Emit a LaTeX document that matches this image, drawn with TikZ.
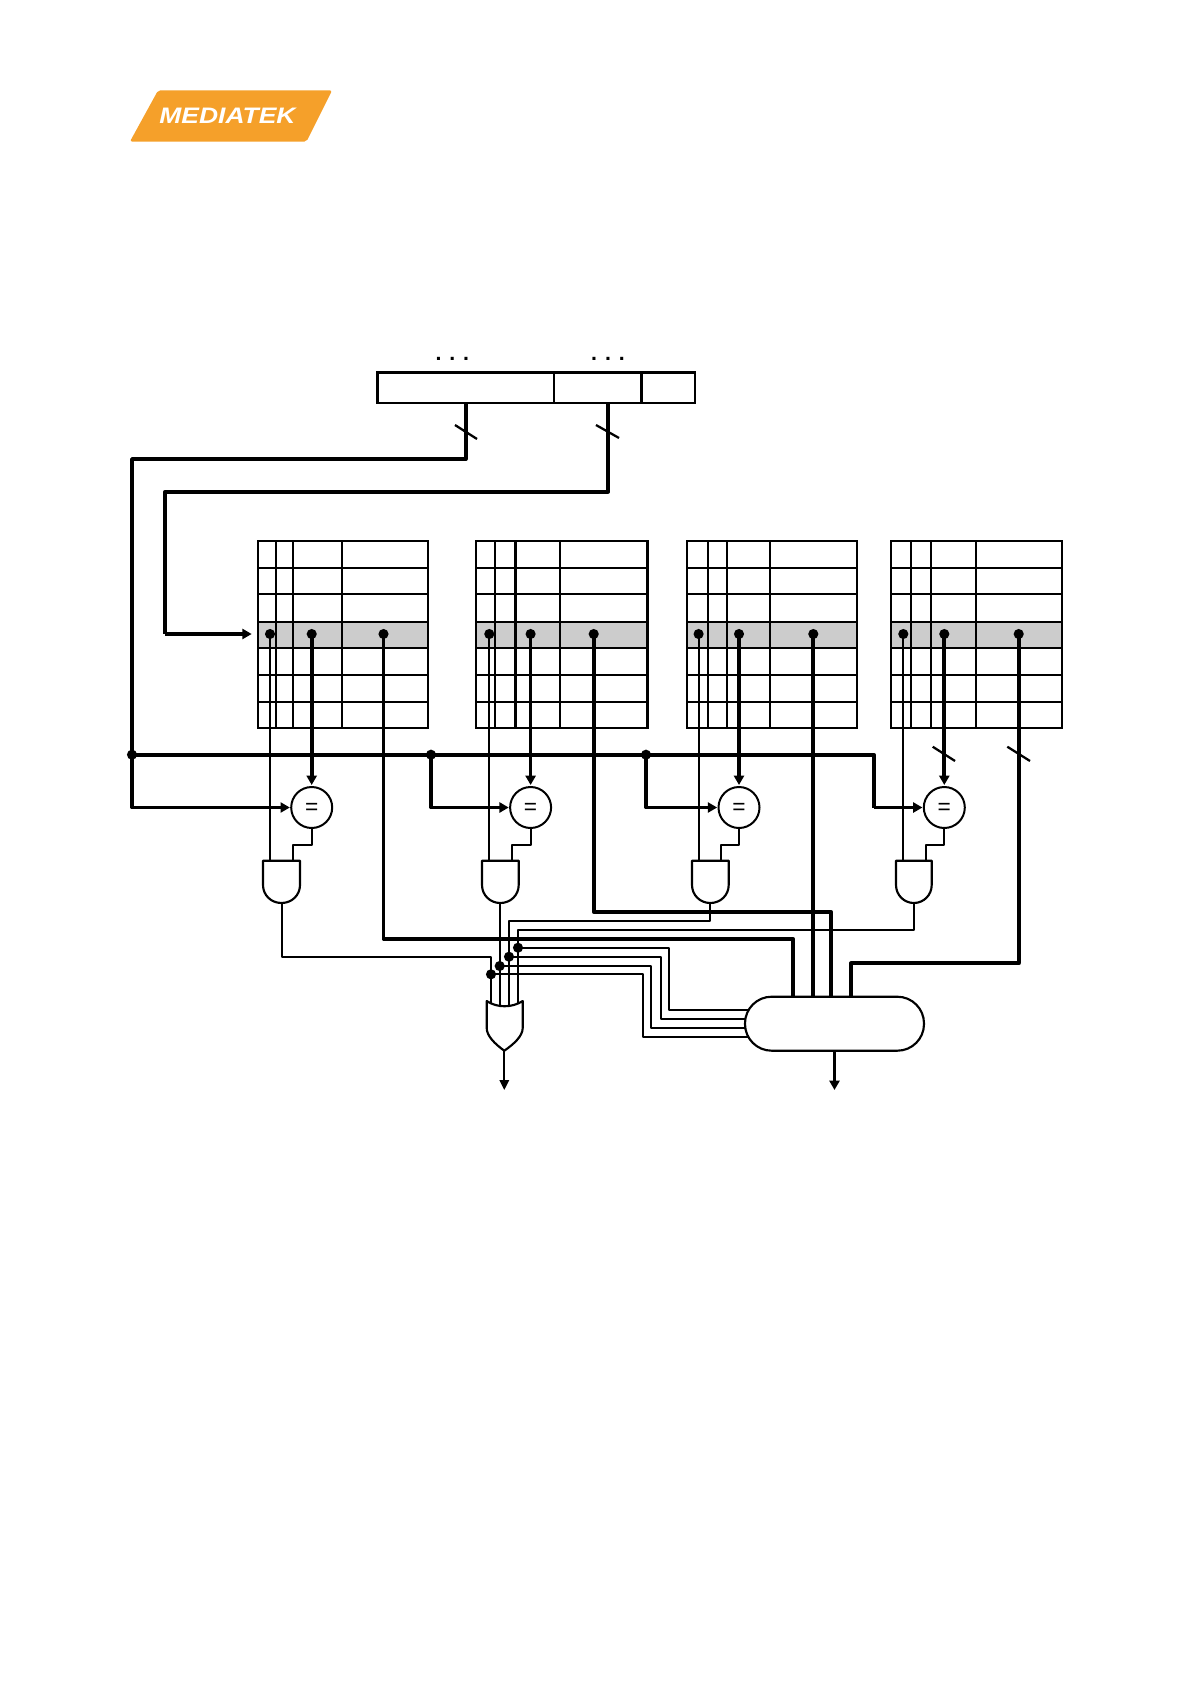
\documentclass[tikz,border=0pt]{standalone}
\usepackage{fontspec}
\setmainfont{Liberation Sans}
\usetikzlibrary{arrows.meta}
\definecolor{logoorange}{HTML}{F5A02A}
\definecolor{rowgray}{HTML}{CCCCCC}
\tikzset{
  gridline/.style={line width=1.6pt,draw=black},
  thinwire/.style={line width=1.5pt,draw=black,line join=round},
  thickwire/.style={line width=2.8pt,draw=black,line join=round},
  thinarrow/.style={thinwire,-{Triangle[length=7.5pt,width=7pt]}},
  thickarrow/.style={thickwire,-{Triangle[length=7pt,width=7.5pt]}},
  slash/.style={line width=1.7pt,draw=black},
  junction/.style={circle,fill=black,inner sep=0pt,minimum size=7.6pt,outer sep=0pt},
  regbox/.style={rectangle,draw=black,line width=1.6pt,fill=white,inner sep=0pt,outer sep=0pt,minimum height=22.9pt,anchor=north west},
  cmpbox/.style={circle,draw=black,line width=1.5pt,fill=white,inner sep=0pt,outer sep=0pt,minimum size=30.75pt,font=\fontsize{17}{17}\selectfont},
  gate/.style={draw=black,line width=1.6pt,fill=white,line join=round},
  muxbox/.style={rectangle,rounded corners=20pt,draw=black,line width=1.6pt,fill=white,inner sep=0pt,outer sep=0pt,minimum width=134.25pt,minimum height=40.5pt},
}
\begin{document}
\begin{tikzpicture}[x=0.75pt,y=-0.75pt]
\useasboundingbox (0,0) rectangle (1190,1684);

% logo
\fill[logoorange,rounded corners=1.5pt] (158,90.5) -- (332,90.5) -- (306.5,141.5) -- (130,141.5) -- cycle;
\node[text=white,font=\fontsize{16.8}{17}\selectfont\bfseries\itshape,transform shape,xscale=1.18,inner sep=0pt] (logotext) at (227.5,116) {MEDIATEK};

% register
\node[regbox,minimum width=132.4pt] (reg1) at (377.5,372.5) {};
\node[regbox,minimum width=65.6pt] (reg2) at (554,372.5) {};
\node[regbox,minimum width=40.1pt] (reg3) at (641.5,372.5) {};
\node[anchor=base,inner sep=0pt,font=\fontsize{16}{16}\selectfont\bfseries] (dotsa) at (452.3,360) {. . .};
\node[anchor=base,inner sep=0pt,font=\fontsize{16}{16}\selectfont\bfseries] (dotsb) at (608,360) {. . .};

% tables, comparators, AND gates
\foreach \i/\L/\R/\va/\vb/\vc/\da/\db/\dc/\gl/\gr/\gb/\go in {
  1/258/428/276/293/341.7/270/311.7/383.5/263/300/292.7/281.7,
  2/476/647.5/495/515.5/559.6/489.3/530.6/593.7/482/518.7/512/499.7,
  3/687/857/708/727/770/698.6/739/813.3/692/728.7/721.3/710,
  4/890.7/1061.7/910.7/931/975.7/903.3/944.3/1018.7/896/931.7/926/913.7}{
  \fill[rowgray] (\L,622) rectangle (\R,648);
  \draw[gridline] (\L,541) rectangle (\R,728);
  \foreach \yy in {568,594,622,648,675,702}{\draw[gridline] (\L,\yy) -- (\R,\yy);}
  \foreach \xx in {\va,\vb,\vc}{\draw[gridline] (\xx,541) -- (\xx,728);}
  \node[junction] (a\i) at (\da,634) {};
  \node[junction] (b\i) at (\db,634) {};
  \node[junction] (c\i) at (\dc,634) {};
  \node[cmpbox] (cmp\i) at (\db,807.5) {\raisebox{-5.6pt}[0pt][0pt]{=}};
  \pgfmathsetmacro{\gm}{(\gl+\gr)/2}
  \draw[gate] (\gl,860.7) -- (\gr,860.7) -- (\gr,885)
     .. controls (\gr,895) and (\gr-8,903) .. (\gm,903)
     .. controls (\gl+8,903) and (\gl,895) .. (\gl,885) -- cycle;
  \coordinate (and\i a) at (\da,860.7);
  \coordinate (and\i b) at (\gb,860.7);
  \coordinate (and\i o) at (\go,903);
  \coordinate (step\i) at (\db,844.7);
  \coordinate (stepb\i) at (\gb,844.7);
  \draw[thinwire] (a\i.center) -- (and\i a);
  \draw[thinwire] (cmp\i.south) -- (step\i) -- (stepb\i) -- (and\i b);
  \draw[thickarrow] (b\i.center) -- ([yshift=1.5pt]cmp\i.north);
}

% index / tag lines from the register
\coordinate (regtag) at (465.75,403);
\coordinate (regidx) at (608,403);
\coordinate (tagcorner) at (465.75,459);
\coordinate (tagleft) at (132,459);
\coordinate (idxcorner) at (608,491.7);
\coordinate (idxleft) at (165,491.7);
\coordinate (idxdown) at (165,634);
\coordinate (idxend) at (251.7,634);
\node[junction] (j1) at (132,754.7) {};
\node[junction] (j2) at (431,754.7) {};
\node[junction] (j3) at (646,754.7) {};
\coordinate (buscorner) at (874,754.7);
\coordinate (c1corner) at (132,807.5);
\coordinate (c2corner) at (431,807.5);
\coordinate (c3corner) at (646,807.5);
\coordinate (c4corner) at (874,807.5);
\draw[thickwire] (regtag) -- (tagcorner) -- (tagleft) -- (j1.center);
\draw[thickwire] (regidx) -- (idxcorner) -- (idxleft) -- (idxdown);
\draw[thickarrow] (idxdown) -- (idxend);
\draw[thickwire] (j1.center) -- (j2.center) -- (j3.center) -- (buscorner) -- (c4corner);
\draw[thickarrow,shorten >=1pt] (j1.center) -- (c1corner) -- (cmp1.west);
\draw[thickarrow,shorten >=1pt] (j2.center) -- (c2corner) -- (cmp2.west);
\draw[thickarrow,shorten >=1pt] (j3.center) -- (c3corner) -- (cmp3.west);
\draw[thickarrow,shorten >=1pt] (c4corner) -- (cmp4.west);

% slashes
\draw[slash] (455,425) -- (477,439);
\draw[slash] (596,425) -- (619,438);
\draw[slash] (932.7,746.7) -- (955,761);
\draw[slash] (1007.3,746.7) -- (1030,761);

% OR gate
\draw[gate] (486.7,1001) .. controls (497,1008) and (512,1008) .. (522.7,1001)
   -- (522.7,1028) .. controls (522.7,1036) and (514,1044) .. (504.3,1050.7)
   .. controls (495,1044) and (486.7,1036) .. (486.7,1028) -- cycle;
\coordinate (ora) at (491,1003.5);
\coordinate (orb) at (499.7,1006);
\coordinate (orc) at (509,1006);
\coordinate (ord) at (518,1003.5);
\coordinate (orout) at (504.3,1050.7);
\coordinate (orend) at (504.3,1090);
\draw[thinarrow] (orout) -- (orend);

% hit junctions and way-select lines
\node[junction] (ja) at (491,974.3) {};
\node[junction] (jb) at (499.7,966) {};
\node[junction] (jc) at (509,956.7) {};
\node[junction] (jd) at (518,947.7) {};
\coordinate (w1) at (281.7,956.7);
\coordinate (w1b) at (491,956.7);
\coordinate (w3) at (710,921);
\coordinate (w3b) at (509,921);
\coordinate (w4) at (913.7,930);
\coordinate (w4b) at (518,930);
\draw[thinwire] (and1o) -- (w1) -- (w1b) -- (ja.center) -- (ora);
\draw[thinwire] (and2o) -- (jb.center) -- (orb);
\draw[thinwire] (and3o) -- (w3) -- (w3b) -- (jc.center) -- (orc);
\draw[thinwire] (and4o) -- (w4) -- (w4b) -- (jd.center) -- (ord);
\coordinate (sa1) at (642.7,974.3);
\coordinate (sa2) at (642.7,1037);
\coordinate (sa3) at (770,1037);
\coordinate (sb1) at (651.3,966);
\coordinate (sb2) at (651.3,1027.7);
\coordinate (sb3) at (770,1027.7);
\coordinate (sc1) at (660.7,956.7);
\coordinate (sc2) at (660.7,1019);
\coordinate (sc3) at (770,1019);
\coordinate (sd1) at (669.3,947.7);
\coordinate (sd2) at (669.3,1010);
\coordinate (sd3) at (770,1010);
\draw[thinwire] (ja.center) -- (sa1) -- (sa2) -- (sa3);
\draw[thinwire] (jb.center) -- (sb1) -- (sb2) -- (sb3);
\draw[thinwire] (jc.center) -- (sc1) -- (sc2) -- (sc3);
\draw[thinwire] (jd.center) -- (sd1) -- (sd2) -- (sd3);
% data lines
\coordinate (d1a) at (383.5,938.7);
\coordinate (d1b) at (792.7,938.7);
\coordinate (d1c) at (792.7,1000);
\coordinate (d2a) at (593.7,911.7);
\coordinate (d2b) at (831,911.7);
\coordinate (d2c) at (831,1000);
\coordinate (d3a) at (813.3,1000);
\coordinate (d4a) at (1018.7,963.3);
\coordinate (d4b) at (851,963.3);
\coordinate (d4c) at (851,1000);
\draw[thickwire] (c1.center) -- (d1a) -- (d1b) -- (d1c);
\draw[thickwire] (c2.center) -- (d2a) -- (d2b) -- (d2c);
\draw[thickwire] (c3.center) -- (d3a);
\draw[thickwire] (c4.center) -- (d4a) -- (d4b) -- (d4c);
% mux
\node[muxbox] (mux) at (834.5,1023.7) {};
\coordinate (muxend) at (834.5,1090);
\draw[thickarrow] (mux.south) -- (muxend);
\end{tikzpicture}
\end{document}
